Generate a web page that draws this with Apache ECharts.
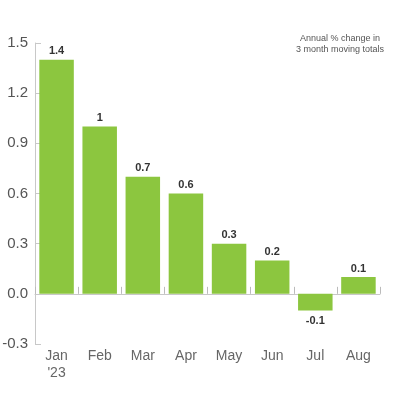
<!DOCTYPE html>
<html><head><meta charset="utf-8">
<script src="https://cdn.jsdelivr.net/npm/echarts@6/dist/echarts.min.js"></script>
<style>html,body{margin:0;padding:0;background:#fff}#c{width:400px;height:400px}</style>
</head><body><div id="c"></div>
<script>
const categories = ["Jan\n'23", "Feb", "Mar", "Apr", "May", "Jun", "Jul", "Aug"];
const values = [1.4, 1, 0.7, 0.6, 0.3, 0.2, -0.1, 0.1];
const yTicks = { min: -0.3, max: 1.5, interval: 0.3 };
const note = "Annual % change in\n3 month moving totals";

const chart = echarts.init(document.getElementById('c'));
chart.setOption({
  animation: false,
  grid: { left: 35, right: 20, top: 43, bottom: 56, containLabel: false, outerBoundsMode: 'none' },
  xAxis: {
    type: 'category', data: categories,
    axisLine: { onZero: true, lineStyle: { color: '#c8c8c8', width: 1 } },
    axisTick: { show: true, inside: true, length: 7, lineStyle: { color: '#bbb' } },
    axisLabel: { margin: 4, color: '#666', fontSize: 14, lineHeight: 17, fontFamily: 'Liberation Sans, Arial, sans-serif' }
  },
  yAxis: {
    type: 'value', min: yTicks.min, max: yTicks.max, interval: yTicks.interval,
    splitLine: { show: false },
    axisLine: { show: true, lineStyle: { color: '#c8c8c8' } },
    axisTick: { show: true, inside: true, length: 6, lineStyle: { color: '#c8c8c8' } },
    axisLabel: { margin: 7, color: '#555', fontSize: 15, fontFamily: 'Liberation Sans, Arial, sans-serif',
      formatter: v => v.toFixed(1) }
  },
  series: [{
    type: 'bar', barCategoryGap: '20%',
    itemStyle: { color: '#8cc63f' },
    label: { show: true, position: 'top', distance: 3, color: '#333', fontSize: 11, fontWeight: 'bold',
      fontFamily: 'Liberation Sans Narrow, Liberation Sans, Arial, sans-serif' },
    data: values.map(v => v < 0 ? { value: v, label: { position: 'bottom', distance: 5 } } : v)
  }],
  graphic: [{
    type: 'text', left: 296, top: 33,
    style: { text: note, fill: '#555', fontSize: 9, lineHeight: 11, align: 'center', textAlign: 'center',
      fontFamily: 'Liberation Sans Narrow, Liberation Sans, Arial, sans-serif' }
  }]
});
</script></body></html>
